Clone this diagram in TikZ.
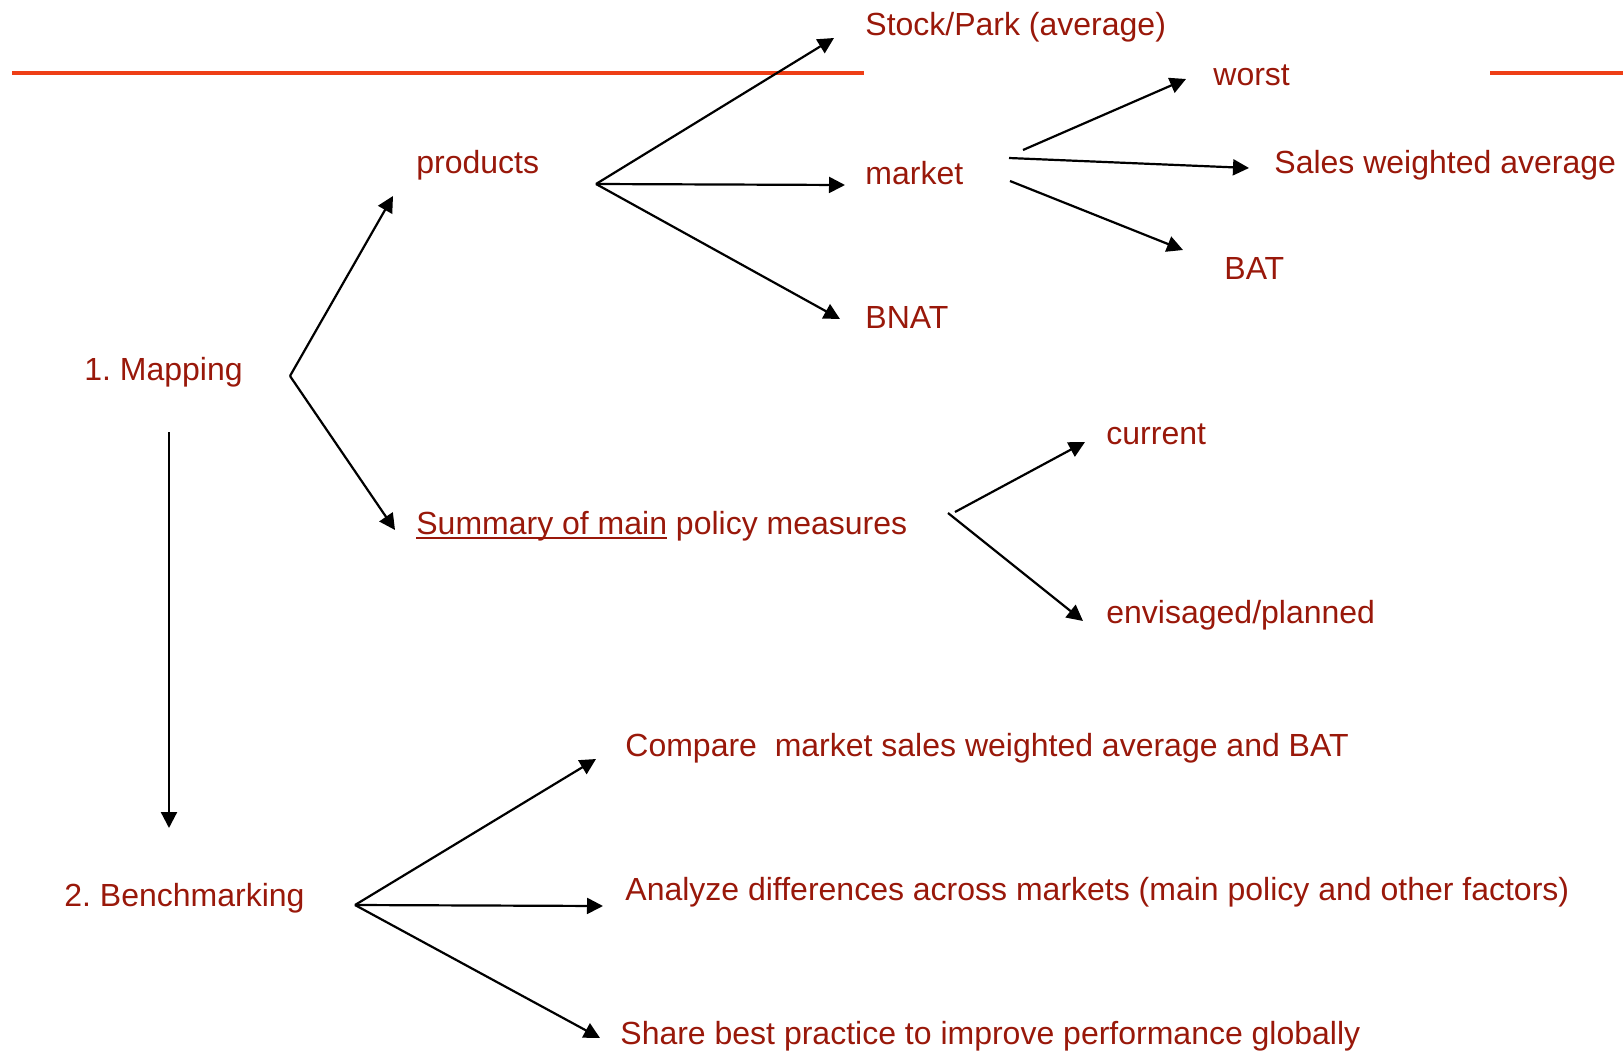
\documentclass[tikz,border=0pt]{standalone}
\usepackage{fontspec}
\setmainfont{Liberation Sans}
\usetikzlibrary{arrows.meta}
\definecolor{txtred}{RGB}{153,24,10}
\definecolor{rule}{RGB}{238,62,22}
\newcommand{\thickul}[1]{\setbox0\hbox{#1}\rlap{\rule[-2.6pt]{\wd0}{1.2pt}}\box0\relax}
\tikzset{
  lbl/.style={anchor=west,inner sep=0pt,text=txtred,font=\fontsize{16}{19}\selectfont\frenchspacing},
  arr/.style={line width=1.1pt,-{Triangle[length=8pt,width=8pt]}}
}
\begin{document}
\begin{tikzpicture}[x=0.5pt,y=-0.5pt]
\useasboundingbox (0,0) rectangle (1623,1050);
% orange rules
\coordinate (rl1) at (12,73);
\coordinate (rl2) at (864,73);
\coordinate (rr1) at (1490,73);
\coordinate (rr2) at (1623,73);
\draw[rule,line width=1.6pt] (rl1) -- (rl2);
\draw[rule,line width=1.6pt] (rr1) -- (rr2);
% nodes
\node[lbl] (stock) at (865,27) {Stock/Park (average)};
\node[lbl] (worst) at (1213,75) {worst};
\node[lbl] (products) at (416,165) {products};
\node[lbl] (market) at (865,173) {market};
\node[lbl] (sales) at (1274,165) {Sales weighted average};
\node[lbl] (bat) at (1224,268) {BAT};
\node[lbl] (bnat) at (865,317) {BNAT};
\node[lbl] (mapping) at (84,372) {1. Mapping};
\node[lbl] (current) at (1106,434) {current};
\node[lbl] (summary) at (416,526) {\thickul{Summary of main} policy measures};
\node[lbl] (envis) at (1106,615) {envisaged/planned};
\node[lbl] (compare) at (625,748) {Compare\ \ market sales weighted average and BAT};
\node[lbl] (bench) at (64,898) {2. Benchmarking};
\node[lbl] (analyze) at (625,892) {Analyze differences across markets (main policy and other factors)};
\node[lbl] (share) at (620,1036) {Share best practice to improve performance globally};
% mapping fork
\draw[arr] ([shift={(206,4)}]mapping.west) -- ([shift={(-23,31)}]products.west);
\draw[arr] ([shift={(206,4)}]mapping.west) -- ([shift={(-21,4)}]summary.west);
\draw[arr] ([shift={(85,60)}]mapping.west) -- ([shift={(105,-70)}]bench.west);
% products fork
\draw[arr] ([shift={(180,19)}]products.west) -- ([shift={(-31,11)}]stock.west);
\draw[arr] ([shift={(180,19)}]products.west) -- ([shift={(-20,12)}]market.west);
\draw[arr] ([shift={(180,19)}]products.west) -- ([shift={(-25,2)}]bnat.west);
% market fork
\draw[arr] ([shift={(158,-23)}]market.west) -- ([shift={(-27,4)}]worst.west);
\draw[arr] ([shift={(144,-15)}]market.west) -- ([shift={(-25,3)}]sales.west);
\draw[arr] ([shift={(145,8)}]market.west) -- ([shift={(-41,-18)}]bat.west);
% summary fork
\draw[arr] ([shift={(539,-14)}]summary.west) -- ([shift={(-21,8)}]current.west);
\draw[arr] ([shift={(532,-13)}]summary.west) -- ([shift={(-23,6)}]envis.west);
% benchmarking fork
\draw[arr] ([shift={(291,7)}]bench.west) -- ([shift={(-29,11)}]compare.west);
\draw[arr] ([shift={(291,7)}]bench.west) -- ([shift={(-22,14)}]analyze.west);
\draw[arr] ([shift={(291,7)}]bench.west) -- ([shift={(-20,2)}]share.west);
\end{tikzpicture}
\end{document}
